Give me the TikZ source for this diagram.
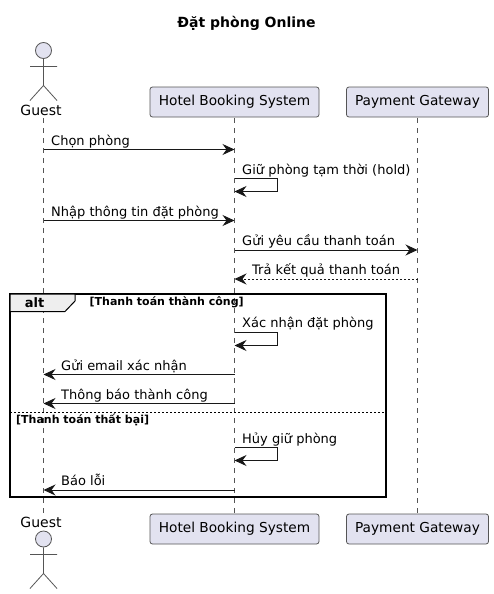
\documentclass[tikz,border=0pt]{standalone}
\usepackage{fontspec}
\setmainfont{DejaVu Sans}
\usetikzlibrary{arrows.meta}
\definecolor{partfill}{HTML}{E2E2F0}
\definecolor{ink}{HTML}{181818}
\definecolor{soft}{HTML}{555555}
\definecolor{tabfill}{HTML}{EEEEEE}
\tikzset{
  part/.style={draw=soft,line width=.8pt,fill=partfill,rounded corners=2.5pt,minimum height=30pt,inner sep=0pt,font=\fontsize{13.7}{15}\selectfont,text=black},
  life/.style={draw=soft,line width=.7pt,dash pattern=on 5pt off 5pt},
  msg/.style={draw=ink,line width=1pt,-{Stealth[length=12pt,width=11pt,inset=4pt]}},
  reply/.style={msg,dash pattern=on 2pt off 2pt},
  lbl/.style={anchor=base west,inner sep=0pt,font=\fontsize{13}{15}\selectfont,text=black},
  actorname/.style={anchor=base,inner sep=0pt,font=\fontsize{14}{16}\selectfont,text=black},
  frame/.style={draw=black,line width=1.5pt},
  guard/.style={anchor=base west,inner sep=0pt,font=\fontsize{11}{13}\selectfont\bfseries,text=black},
  limb/.style={draw=soft,line width=.8pt},
  head/.style={circle,draw=soft,line width=.8pt,fill=partfill,minimum size=16pt,inner sep=0pt}
}
\begin{document}
\begin{tikzpicture}[x=1pt,y=-1pt]
\useasboundingbox (0,0) rectangle (493,594);
\node[anchor=base,inner sep=0pt,font=\fontsize{14}{16}\selectfont\bfseries] (title) at (246.5,28) {Đặt phòng Online};
% lifeline ends
\coordinate (gt) at (43.5,118); \coordinate (gb) at (43.5,513);
\coordinate (ht) at (234.5,118); \coordinate (hb) at (234.5,513);
\coordinate (pt) at (417.5,118); \coordinate (pb) at (417.5,513);
\draw[life] (gt) -- (gb);
\draw[life] (ht) -- (hb);
\draw[life] (pt) -- (pb);
% participants
\node[part,minimum width=169pt] (h1) at (234.5,102) {Hotel Booking System};
\node[part,minimum width=142pt] (p1) at (417.5,102) {Payment Gateway};
\node[part,minimum width=169pt] (h2) at (234.5,529) {Hotel Booking System};
\node[part,minimum width=142pt] (p2) at (417.5,529) {Payment Gateway};
% actor top
\node[head] (ah1) at (43.5,50.5) {};
\coordinate (ab1) at (43.5,85.5); \coordinate (al1) at (30,66.5); \coordinate (ar1) at (57,66.5);
\coordinate (fl1) at (30,100.5); \coordinate (fr1) at (57,100.5);
\draw[limb] (ah1) -- (ab1) (al1) -- (ar1) (fl1) -- (ab1) -- (fr1);
\node[actorname] (g1) at (41,115) {Guest};
% actor bottom
\node[actorname] (g2) at (41,527) {Guest};
\node[head] (ah2) at (43.5,539) {};
\coordinate (ab2) at (43.5,573.5); \coordinate (al2) at (30,554.5); \coordinate (ar2) at (57,554.5);
\coordinate (fl2) at (30,588.5); \coordinate (fr2) at (57,588.5);
\draw[limb] (ah2) -- (ab2) (al2) -- (ar2) (fl2) -- (ab2) -- (fr2);
% messages
\draw[msg] (gt |- 0,149.5) -- (ht |- 0,149.5);
\node[lbl] at (51,145) {Chọn phòng};
\draw[msg] (ht |- 0,178.5) -- ++(43,0) -- ++(0,13) -- ++(-43,0);
\node[lbl] at (242,174) {Giữ phòng tạm thời (hold)};
\draw[msg] (gt |- 0,220.5) -- (ht |- 0,220.5);
\node[lbl] at (51,216) {Nhập thông tin đặt phòng};
\draw[msg] (ht |- 0,250) -- (pt |- 0,250);
\node[lbl] at (242,245.5) {Gửi yêu cầu thanh toán};
\draw[reply] (pt |- 0,279) -- (ht |- 0,279);
\node[lbl] at (252,274.5) {Trả kết quả thanh toán};
% alt frame
\draw[frame] (10,294) rectangle (386,497);
\draw[frame,fill=tabfill,line width=1pt] (10,294) -- (75,294) -- (75,301) -- (65,311.5) -- (10,311.5) -- cycle;
\node[anchor=base,inner sep=0pt,font=\fontsize{13}{15}\selectfont\bfseries] (alt) at (34.5,307) {alt};
\node[guard] at (89.5,305) {[Thanh toán thành công]};
\draw[msg] (ht |- 0,332.5) -- ++(43,0) -- ++(0,13) -- ++(-43,0);
\node[lbl] at (242,327.5) {Xác nhận đặt phòng};
\draw[msg] (ht |- 0,374.5) -- (gt |- 0,374.5);
\node[lbl] at (61,370) {Gửi email xác nhận};
\draw[msg] (ht |- 0,403.5) -- (gt |- 0,403.5);
\node[lbl] at (61,399) {Thông báo thành công};
\draw[draw=black,line width=.8pt,dash pattern=on 2pt off 2pt] (10,412.5) -- (386,412.5);
\node[guard] at (16,423) {[Thanh toán thất bại]};
\draw[msg] (ht |- 0,447.5) -- ++(43,0) -- ++(0,13) -- ++(-43,0);
\node[lbl] at (242,443) {Hủy giữ phòng};
\draw[msg] (ht |- 0,490) -- (gt |- 0,490);
\node[lbl] at (61,485.5) {Báo lỗi};
\end{tikzpicture}
\end{document}
